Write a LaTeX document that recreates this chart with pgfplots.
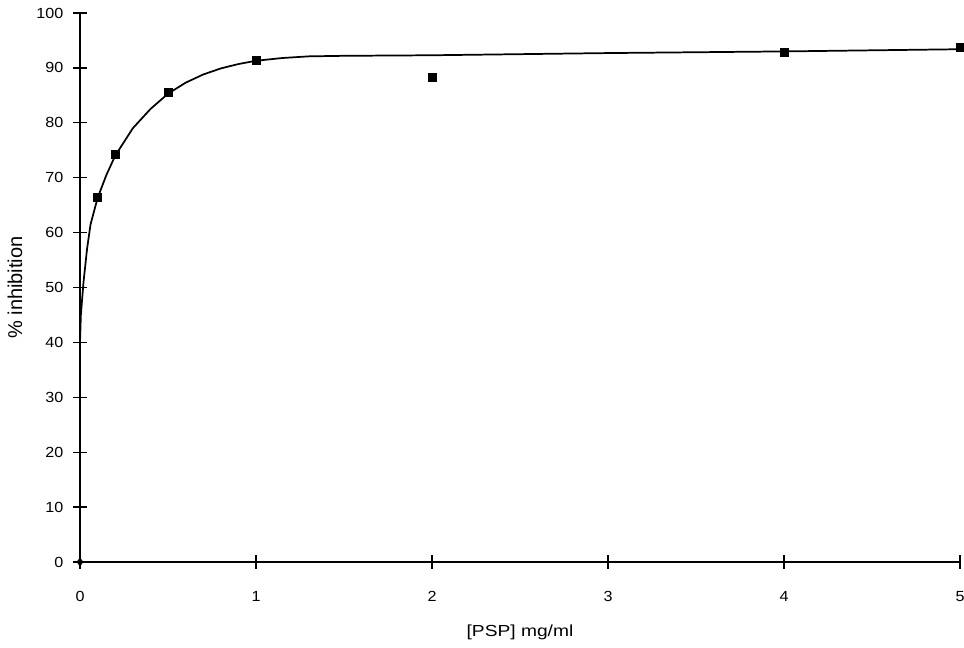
\documentclass[border=0pt]{standalone}
\usepackage{fontspec}
\setmainfont{Liberation Sans}
\newfontfamily\tickfont[FakeStretch=1.1]{Liberation Sans}
\newfontfamily\xlabfont[FakeStretch=1.2]{Liberation Sans}
\usepackage{pgfplots}
\pgfplotsset{compat=1.18}

\begin{document}
\begin{tikzpicture}
\begin{axis}[
    scale only axis,
    width=660pt, height=411.75pt,
    xmin=0, xmax=5, ymin=0, ymax=100,
    axis lines=left,
    axis line style={-, line width=1.4pt},
    xtick={0,1,2,3,4,5},
    ytick={0,10,...,100},
    tick align=center,
    major tick length=10pt,
    tick style={black, line width=1pt},
    /pgf/number format/assume math mode=true,
    ticklabel style={font=\tickfont\fontsize{11}{13}\selectfont},
    xticklabel style={anchor=center, yshift=-21pt},
    yticklabel style={anchor=east, xshift=-4pt},
    xlabel={[PSP] mg/ml},
    ylabel={\% inhibition},
    xlabel style={font=\xlabfont\fontsize{12}{14}\selectfont, at={(axis description cs:0.5,0)}, anchor=center, yshift=-52.5pt},
    ylabel style={font=\fontsize{15}{18}\selectfont, at={(axis description cs:0,0.5)}, anchor=center, yshift=48.75pt},
    clip=false,
]
% fitted curve
\addplot[black, line width=1.3pt, no marks] coordinates {
    (0,40) (0.005,45) (0.02,51) (0.04,57) (0.06,61.5) (0.1,66.3)
    (0.15,70.5) (0.2,74) (0.3,79) (0.4,82.5) (0.5,85.3) (0.6,87.3)
    (0.7,88.8) (0.8,89.9) (0.9,90.7) (1.0,91.3) (1.15,91.8) (1.3,92.1)
    (1.5,92.2) (2,92.3) (2.5,92.5) (3,92.7) (3.5,92.85) (4,93.0)
    (4.5,93.2) (5,93.4)
};
% measured points
\addplot[only marks, mark=square*, mark size=3pt, black] coordinates {
    (0.1,66.5) (0.2,74.2) (0.5,85.5) (1,91.3) (2,88.3) (4,92.9) (5,93.7)
};
\addplot[only marks, mark=diamond*, mark size=3pt, black] coordinates {
    (0,0)
};
\end{axis}
\pgfresetboundingbox
\path (-60pt,-64.5pt) rectangle (663pt,421.5pt);
\end{tikzpicture}
\end{document}
